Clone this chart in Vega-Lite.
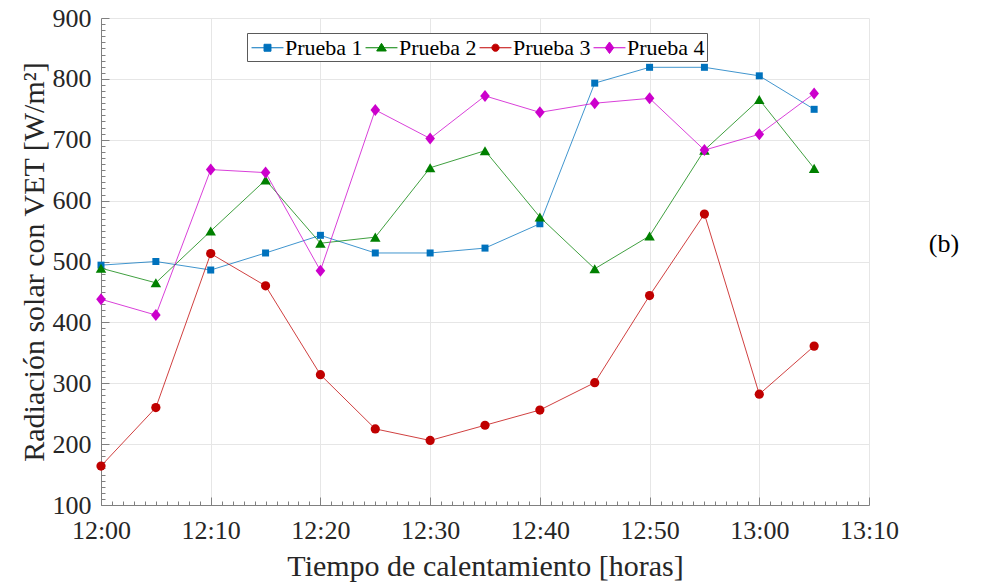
{
  "$schema": "https://vega.github.io/schema/vega-lite/v6.json",
  "width": 768,
  "height": 487,
  "autosize": {"type": "none"},
  "padding": {"left": 101, "top": 18, "right": 115, "bottom": 78},
  "background": "white",
  "title": {
    "text": "(b)",
    "orient": "right",
    "anchor": "middle",
    "angle": 0,
    "baseline": "middle",
    "align": "center",
    "offset": 15,
    "dy": -18,
    "font": "Liberation Serif",
    "fontSize": 26,
    "fontWeight": "normal",
    "color": "#000000"
  },
  "config": {
    "view": {"stroke": null},
    "font": "Liberation Serif",
    "axis": {
      "labelFontSize": 26,
      "labelColor": "#262626",
      "titleFont": "Liberation Serif",
      "titleFontWeight": "normal",
      "titleColor": "#262626",
      "domainColor": "#808080",
      "tickColor": "#808080",
      "gridColor": "#e6e6e6",
      "gridWidth": 1,
      "labelOverlap": false,
      "labelFlush": false
    },
    "legend": {
      "orient": "none",
      "legendX": 146,
      "legendY": 15,
      "direction": "horizontal",
      "labelFont": "Liberation Serif",
      "labelFontSize": 22,
      "labelColor": "#000000",
      "symbolSize": 576,
      "symbolOffset": 6,
      "symbolStrokeWidth": 1,
      "strokeColor": "#5a5a5a",
      "fillColor": "white",
      "padding": 2,
      "columnPadding": -3,
      "labelOffset": 5
    }
  },
  "data": {
    "values": [
      {"t": 0, "serie": "Prueba 1", "valor": 494},
      {"t": 5, "serie": "Prueba 1", "valor": 500},
      {"t": 10, "serie": "Prueba 1", "valor": 486},
      {"t": 15, "serie": "Prueba 1", "valor": 514},
      {"t": 20, "serie": "Prueba 1", "valor": 543},
      {"t": 25, "serie": "Prueba 1", "valor": 514},
      {"t": 30, "serie": "Prueba 1", "valor": 514},
      {"t": 35, "serie": "Prueba 1", "valor": 522},
      {"t": 40, "serie": "Prueba 1", "valor": 562},
      {"t": 45, "serie": "Prueba 1", "valor": 793},
      {"t": 50, "serie": "Prueba 1", "valor": 819},
      {"t": 55, "serie": "Prueba 1", "valor": 819},
      {"t": 60, "serie": "Prueba 1", "valor": 805},
      {"t": 65, "serie": "Prueba 1", "valor": 750},
      {"t": 0, "serie": "Prueba 2", "valor": 489},
      {"t": 5, "serie": "Prueba 2", "valor": 465},
      {"t": 10, "serie": "Prueba 2", "valor": 550},
      {"t": 15, "serie": "Prueba 2", "valor": 634},
      {"t": 20, "serie": "Prueba 2", "valor": 530},
      {"t": 25, "serie": "Prueba 2", "valor": 540},
      {"t": 30, "serie": "Prueba 2", "valor": 654},
      {"t": 35, "serie": "Prueba 2", "valor": 682},
      {"t": 40, "serie": "Prueba 2", "valor": 573},
      {"t": 45, "serie": "Prueba 2", "valor": 488},
      {"t": 50, "serie": "Prueba 2", "valor": 542},
      {"t": 55, "serie": "Prueba 2", "valor": 683},
      {"t": 60, "serie": "Prueba 2", "valor": 766},
      {"t": 65, "serie": "Prueba 2", "valor": 653},
      {"t": 0, "serie": "Prueba 3", "valor": 164},
      {"t": 5, "serie": "Prueba 3", "valor": 260},
      {"t": 10, "serie": "Prueba 3", "valor": 513},
      {"t": 15, "serie": "Prueba 3", "valor": 460},
      {"t": 20, "serie": "Prueba 3", "valor": 314},
      {"t": 25, "serie": "Prueba 3", "valor": 225},
      {"t": 30, "serie": "Prueba 3", "valor": 206},
      {"t": 35, "serie": "Prueba 3", "valor": 231},
      {"t": 40, "serie": "Prueba 3", "valor": 256},
      {"t": 45, "serie": "Prueba 3", "valor": 301},
      {"t": 50, "serie": "Prueba 3", "valor": 444},
      {"t": 55, "serie": "Prueba 3", "valor": 578},
      {"t": 60, "serie": "Prueba 3", "valor": 282},
      {"t": 65, "serie": "Prueba 3", "valor": 361},
      {"t": 0, "serie": "Prueba 4", "valor": 438},
      {"t": 5, "serie": "Prueba 4", "valor": 412},
      {"t": 10, "serie": "Prueba 4", "valor": 651},
      {"t": 15, "serie": "Prueba 4", "valor": 646},
      {"t": 20, "serie": "Prueba 4", "valor": 485},
      {"t": 25, "serie": "Prueba 4", "valor": 749},
      {"t": 30, "serie": "Prueba 4", "valor": 702},
      {"t": 35, "serie": "Prueba 4", "valor": 772},
      {"t": 40, "serie": "Prueba 4", "valor": 745},
      {"t": 45, "serie": "Prueba 4", "valor": 760},
      {"t": 50, "serie": "Prueba 4", "valor": 768},
      {"t": 55, "serie": "Prueba 4", "valor": 683},
      {"t": 60, "serie": "Prueba 4", "valor": 709},
      {"t": 65, "serie": "Prueba 4", "valor": 776}
    ]
  },
  "encoding": {
    "x": {
      "field": "t",
      "type": "quantitative",
      "scale": {"domain": [0, 70], "nice": false, "zero": false},
      "axis": {
        "title": "Tiempo de calentamiento [horas]",
        "titleFontSize": 30,
        "values": [0,1,2,3,4,5,6,7,8,9,10,11,12,13,14,15,16,17,18,19,20,21,22,23,24,25,26,27,28,29,30,31,32,33,34,35,36,37,38,39,40,41,42,43,44,45,46,47,48,49,50,51,52,53,54,55,56,57,58,59,60,61,62,63,64,65,66,67,68,69,70],
        "labelExpr": "datum.value % 10 === 0 ? (12 + floor(datum.value / 60)) + ':' + (datum.value % 60 === 0 ? '00' : '' + (datum.value % 60)) : ''",
        "labelFont": {"condition": {"test": "datum.value >= 0", "value": "Liberation Serif"}, "value": "Liberation Serif"},
        "tickSize": {"condition": {"test": "datum.value % 10 === 0", "value": -8}, "value": -4},
        "gridOpacity": {"condition": {"test": "datum.value % 10 === 0", "value": 1}, "value": 0},
        "labelPadding": 20,
        "titlePadding": 4
      }
    },
    "y": {
      "field": "valor",
      "type": "quantitative",
      "scale": {"domain": [100, 900], "nice": false, "zero": false},
      "axis": {
        "title": "Radiación solar con VET [W/m²]",
        "titleFontSize": 30,
        "values": [100,110,120,130,140,150,160,170,180,190,200,210,220,230,240,250,260,270,280,290,300,310,320,330,340,350,360,370,380,390,400,410,420,430,440,450,460,470,480,490,500,510,520,530,540,550,560,570,580,590,600,610,620,630,640,650,660,670,680,690,700,710,720,730,740,750,760,770,780,790,800,810,820,830,840,850,860,870,880,890,900],
        "labelExpr": "datum.value % 100 === 0 ? '' + datum.value : ''",
        "labelFont": {"condition": {"test": "datum.value >= 0", "value": "Liberation Serif"}, "value": "Liberation Serif"},
        "tickSize": {"condition": {"test": "datum.value % 100 === 0", "value": -8}, "value": -4},
        "gridOpacity": {"condition": {"test": "datum.value % 100 === 0", "value": 1}, "value": 0},
        "labelPadding": 18,
        "titlePadding": 3
      }
    }
  },
  "layer": [
    {
      "mark": {"type": "line", "strokeWidth": 1, "opacity": 0.75},
      "encoding": {
        "color": {
          "field": "serie",
          "type": "nominal",
          "scale": {
            "domain": ["Prueba 1", "Prueba 2", "Prueba 3", "Prueba 4"],
            "range": ["#0072BD", "#008000", "#C00000", "#CC00CC"]
          },
          "legend": {
            "title": null,
            "labelFont": "Liberation Serif",
            "symbolType": "M-1.33,0H1.33",
            "encoding": {
              "symbols": {
                "shape": {"value": {"expr": "datum.value === 'Prueba 1' ? 'M-1.33,0H1.33M-0.29,-0.29H0.29V0.29H-0.29Z' : datum.value === 'Prueba 2' ? 'M-1.33,0H1.33M0,-0.37L0.4,0.27H-0.4Z' : datum.value === 'Prueba 3' ? 'M-1.33,0H1.33M0.3,0A0.3,0.3,0,1,1,-0.3,0A0.3,0.3,0,1,1,0.3,0Z' : 'M-1.33,0H1.33M0,-0.48L0.35,0L0,0.48L-0.35,0Z'"}},
                "fill": {"value": {"expr": "scale('color', datum.value)"}},
                "stroke": {"value": {"expr": "scale('color', datum.value)"}},
                "opacity": {"value": 1}
              }
            }
          }
        }
      }
    },
    {
      "transform": [{"filter": "datum.serie === 'Prueba 1'"}],
      "mark": {"type": "point", "shape": "square", "size": 49, "filled": true, "opacity": 1},
      "encoding": {"color": {"field": "serie", "type": "nominal"}}
    },
    {
      "transform": [{"filter": "datum.serie === 'Prueba 2'"}],
      "mark": {"type": "point", "shape": "triangle-up", "size": 110, "filled": true, "opacity": 1},
      "encoding": {"color": {"field": "serie", "type": "nominal"}}
    },
    {
      "transform": [{"filter": "datum.serie === 'Prueba 3'"}],
      "mark": {"type": "point", "shape": "circle", "size": 85, "filled": true, "opacity": 1},
      "encoding": {"color": {"field": "serie", "type": "nominal"}}
    },
    {
      "transform": [{"filter": "datum.serie === 'Prueba 4'"}],
      "mark": {"type": "point", "shape": "M0,-1L0.8,0L0,1L-0.8,0Z", "size": 144, "filled": true, "opacity": 1},
      "encoding": {"color": {"field": "serie", "type": "nominal"}}
    }
  ]
}
